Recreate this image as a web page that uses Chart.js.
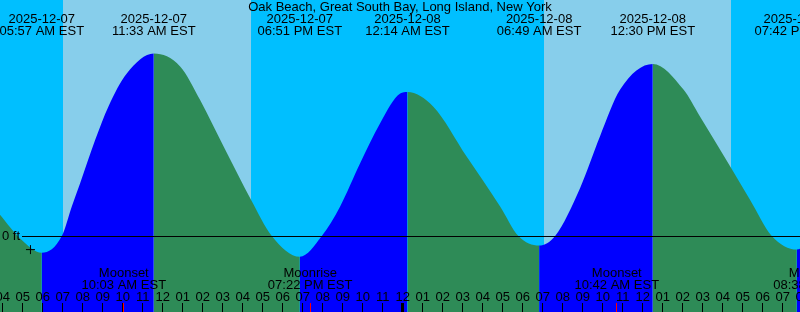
<!DOCTYPE html>
<html>
<head>
<meta charset="utf-8">
<script src="https://cdn.jsdelivr.net/npm/chart.js@4.4.1/dist/chart.umd.min.js"></script>
<style>
  html, body { margin: 0; padding: 0; background: #fff; }
  #wrap { width: 800px; height: 312px; position: relative; }
</style>
</head>
<body>
<div id="wrap"><canvas id="c"></canvas></div>
<script>
// ---------------- data ----------------
const STATION = 'Oak Beach, Great South Bay, Long Island, New York';
const TZ = 'EST';

// high / low tide events
const eventTimes   = ['2025-12-07T05:57', '2025-12-07T11:33', '2025-12-07T18:51', '2025-12-08T00:14',
                      '2025-12-08T06:49', '2025-12-08T12:30', '2025-12-08T19:42'];
const eventHeights = [-0.21, 2.28, -0.26, 1.80, -0.12, 2.15, -0.17];   // ft

// tide level
const sampleTimes = ['2025-12-07T03:51', '2025-12-07T04:52', '2025-12-07T06:57', '2025-12-07T07:27',
                     '2025-12-07T07:52', '2025-12-07T08:37', '2025-12-07T09:17', '2025-12-07T10:12',
                     '2025-12-07T12:52', '2025-12-07T13:52', '2025-12-07T15:07', '2025-12-07T16:25',
                     '2025-12-07T17:27', '2025-12-07T19:57', '2025-12-07T20:52', '2025-12-07T21:52',
                     '2025-12-07T22:52', '2025-12-07T23:52', '2025-12-08T01:31', '2025-12-08T03:12',
                     '2025-12-08T04:52', '2025-12-08T05:47', '2025-12-08T07:37', '2025-12-08T08:52',
                     '2025-12-08T09:52', '2025-12-08T10:52', '2025-12-08T14:02', '2025-12-08T14:52',
                     '2025-12-08T16:25', '2025-12-08T17:22', '2025-12-08T18:27', '2025-12-08T19:52'];
const sampleHeights = [0.27, -0.03, 0.00, 0.37,
                       0.66, 1.20, 1.62, 2.03,
                       2.12, 1.70, 1.08, 0.45,
                       0.00, 0.00, 0.37, 0.91,
                       1.41, 1.78, 1.62, 0.99,
                       0.37, 0.00, 0.00, 0.60,
                       1.25, 1.83, 1.83, 1.49,
                       0.85, 0.45, 0.00, -0.16];

// daylight
const sunriseTimes = ['2025-12-07T07:00', '2025-12-08T07:04'];
const sunsetTimes  = ['2025-12-07T16:25', '2025-12-08T16:25'];

// moon events
const moonTimes  = ['2025-12-07T10:03', '2025-12-07T19:22', '2025-12-08T10:42', '2025-12-08T20:38'];
const moonEvents = ['Moonset', 'Moonrise', 'Moonset', 'Moonrise'];

// "+" mark
const markTimes   = ['2025-12-07T05:23'];
const markHeights = [-0.17];

const ZERO_LABEL = '0 ft';

// ---------------- view / style ----------------
const X_MIN = 3.86, X_MAX = 43.86;      // hours since 2025-12-07 00:00
const Y_MIN = -0.95, Y_MAX = 2.95;      // ft
const NIGHT = '#00BFFF', DAY = '#87CEEB';
const RISE = '#0000FF', FALL = '#2E8B57';
const FAMILY = '"Liberation Sans", Arial, sans-serif';
const FSIZE = 13;
const LINE_H = 0.9;

// ---------------- helpers ----------------
const BASE = Date.parse('2025-12-07T00:00:00Z');
const toH = s => (Date.parse(s + ':00Z') - BASE) / 3600000;
const pad = n => String(n).padStart(2, '0');
function clock(s) {
  const t = s.split('T')[1].split(':').map(Number);
  const ap = t[0] < 12 ? 'AM' : 'PM';
  return pad(t[0] % 12 || 12) + ':' + pad(t[1]) + ' ' + ap + ' ' + TZ;
}
const findIdx = (arr, v) => arr.findIndex(t => Math.abs(toH(t) - v) < 1e-6);

const curve = sampleTimes.map((t, i) => ({x: toH(t), y: sampleHeights[i]}))
  .concat(eventTimes.map((t, i) => ({x: toH(t), y: eventHeights[i]})))
  .sort((a, b) => a.x - b.x);
const marks = markTimes.map((t, i) => ({x: toH(t), y: markHeights[i]}));

const hourTicks = [];
for (let h = Math.ceil(X_MIN); h <= Math.ceil(X_MAX); h++) hourTicks.push(h);

const zeroAll = s => { s.paddingLeft = 0; s.paddingRight = 0; s.paddingTop = 0; s.paddingBottom = 0; };

// ---------------- plugins ----------------
const daylight = {
  id: 'daylight',
  beforeDraw(chart) {
    const {ctx, chartArea: a, scales: {x}} = chart;
    ctx.save();
    ctx.fillStyle = NIGHT;
    ctx.fillRect(a.left, a.top, a.width, a.height);
    ctx.fillStyle = DAY;
    sunriseTimes.forEach((s, i) => {
      const x0 = Math.round(x.getPixelForValue(toH(s)));
      const x1 = Math.round(x.getPixelForValue(toH(sunsetTimes[i])));
      ctx.fillRect(x0, a.top, x1 - x0, a.height);
    });
    ctx.restore();
  }
};

const zeroLine = {
  id: 'zeroLine',
  afterDatasetsDraw(chart) {
    const {ctx, chartArea: a, scales: {y}} = chart;
    const yy = Math.round(y.getPixelForValue(0)) + 0.5;
    ctx.save();
    ctx.font = FSIZE + 'px ' + FAMILY;
    const x0 = Math.round(y.options.ticks.padding + ctx.measureText(ZERO_LABEL).width + 2);
    ctx.strokeStyle = '#000';
    ctx.lineWidth = 1;
    ctx.beginPath();
    ctx.moveTo(x0, yy);
    ctx.lineTo(a.right, yy);
    ctx.stroke();
    ctx.restore();
  }
};

Chart.defaults.font.family = FAMILY;
Chart.defaults.font.size = FSIZE;
Chart.defaults.font.lineHeight = LINE_H;
Chart.defaults.color = '#000';

new Chart(document.getElementById('c'), {
  type: 'line',
  data: {
    datasets: [
      {
        data: curve,
        fill: 'start',
        borderWidth: 0,
        borderColor: 'rgba(0,0,0,0)',
        backgroundColor: FALL,
        pointRadius: 0,
        cubicInterpolationMode: 'monotone',
        segment: {
          backgroundColor: c => (c.p1.parsed.y >= c.p0.parsed.y ? RISE : FALL)
        },
        order: 2
      },
      {
        data: marks,
        showLine: false,
        fill: false,
        pointStyle: 'cross',
        pointRadius: 4.5,
        pointBorderWidth: 1,
        pointBorderColor: '#000',
        pointBackgroundColor: '#000',
        order: 1
      }
    ]
  },
  options: {
    responsive: true,
    maintainAspectRatio: false,
    animation: false,
    events: [],
    layout: { padding: 0, autoPadding: false },
    plugins: { legend: { display: false }, tooltip: { enabled: false }, title: { display: false } },
    scales: {
      x: {
        type: 'linear', min: X_MIN, max: X_MAX, position: 'bottom',
        afterBuildTicks: s => { s.ticks = hourTicks.map(v => ({value: v})); },
        afterFit: s => { s.height = 0; zeroAll(s); },
        border: { display: false },
        grid: {
          z: 1, drawOnChartArea: false, drawTicks: true, tickLength: -9,
          color: '#000', tickColor: '#000',
          tickWidth: c => (c.tick && Math.round(c.tick.value) % 24 === 0 ? 3 : 1)
        },
        ticks: {
          z: 1, mirror: true, padding: 8.5, autoSkip: false, maxRotation: 0, minRotation: 0,
          callback: v => pad((Math.round(v) % 24) % 12 || 12)
        }
      },
      xMoon: {
        type: 'linear', axis: 'x', min: X_MIN, max: X_MAX, position: 'bottom',
        afterBuildTicks: s => { s.ticks = moonTimes.map(t => ({value: toH(t)})); },
        afterFit: s => { s.height = 0; zeroAll(s); },
        border: { display: false },
        grid: { z: 1, drawOnChartArea: false, drawTicks: true, tickLength: -9, color: '#FF0000', tickColor: '#FF0000', tickWidth: 1 },
        ticks: {
          z: 1, mirror: true, padding: 32.4, autoSkip: false, maxRotation: 0, minRotation: 0,
          callback: v => { const i = findIdx(moonTimes, v); return i < 0 ? '' : [moonEvents[i], clock(moonTimes[i])]; }
        }
      },
      xTop: {
        type: 'linear', axis: 'x', min: X_MIN, max: X_MAX, position: 'top',
        afterBuildTicks: s => { s.ticks = eventTimes.map(t => ({value: toH(t)})); },
        afterFit: s => { s.height = 0; zeroAll(s); },
        border: { display: false },
        grid: { z: 1, display: false, drawOnChartArea: false, drawTicks: false },
        title: { display: true, text: STATION, padding: { top: 1.3, bottom: 0 }, font: { size: FSIZE, lineHeight: LINE_H } },
        ticks: {
          z: 1, mirror: true, padding: 2.2, autoSkip: false, maxRotation: 0, minRotation: 0,
          callback: v => { const i = findIdx(eventTimes, v); return i < 0 ? '' : [eventTimes[i].split('T')[0], clock(eventTimes[i])]; }
        }
      },
      y: {
        type: 'linear', min: Y_MIN, max: Y_MAX, position: 'left',
        afterBuildTicks: s => { s.ticks = [{value: 0}]; },
        afterFit: s => { s.width = 0; zeroAll(s); },
        border: { display: false },
        grid: { z: 1, display: false, drawTicks: false },
        ticks: { z: 1, mirror: true, padding: 2, callback: () => ZERO_LABEL }
      }
    }
  },
  plugins: [daylight, zeroLine]
});
</script>
</body>
</html>
